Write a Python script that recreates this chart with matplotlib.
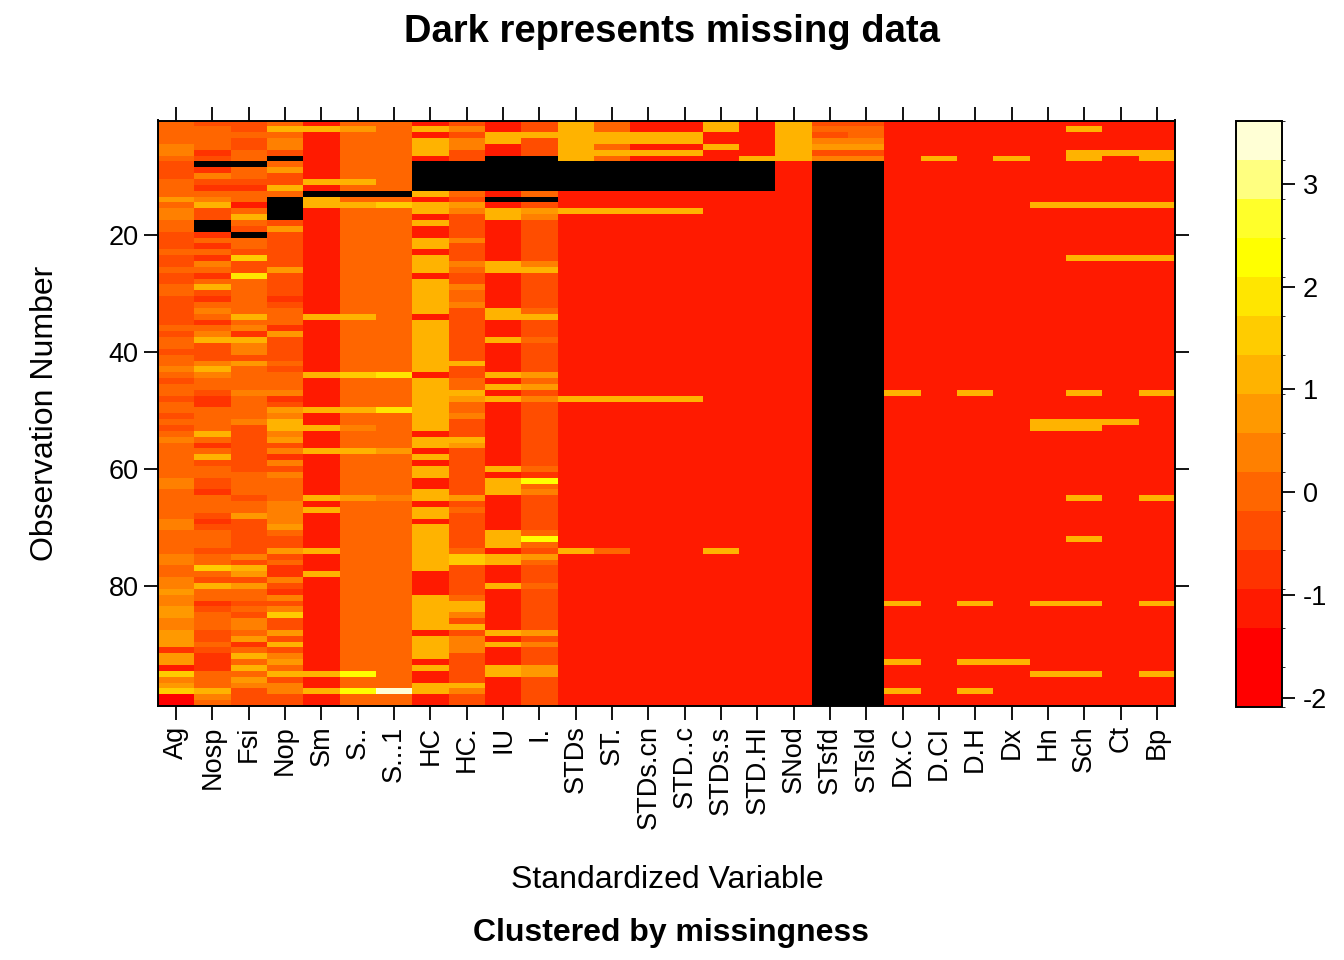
import numpy as np
import matplotlib
matplotlib.use('Agg')
import matplotlib.pyplot as plt
from matplotlib.colors import ListedColormap, BoundaryNorm

plt.rcParams['font.family'] = ['Liberation Sans', 'DejaVu Sans']
plt.rcParams['axes.unicode_minus'] = False

variables = ['Ag', 'Nosp', 'Fsi', 'Nop', 'Sm', 'S..', 'S...1', 'HC', 'HC.', 'IU', 'I.',
             'STDs', 'ST.', 'STDs.cn', 'STD..c', 'STDs.s', 'STD.HI', 'SNod', 'STsfd', 'STsld',
             'Dx.C', 'D.CI', 'D.H', 'Dx', 'Hn', 'Sch', 'Ct', 'Bp']

# one char per observation 1..100 (top down): colour level 0-e, '#' = missing
col_ag = '5555665444 5557566554 4454454455 4444454554 5565455455 4545655555 5665555566 5555665566 7667766777 3772967900'
col_nosp = '4555534#36 4356844##3 5353653584 3565356844 4686554335 5558535845 5443555434 5554559548 5534555445 4333555865'
col_fsi = '4454455#55 435525854# 554944a555 5558563866 4755556555 5644444444 5555455744 4444648747 5545466573 5858576444'
col_nop = '585664#574 485####474 4444474444 3455537444 4545556347 6886746364 6555566667 5447453364 3646944748 4675846644'
col_sm = '2822222222 82#8822222 2222222222 2228222222 2228222228 2282228222 2222828222 2228222822 2222222222 2222822822'
col_s = '5755555555 85#5855555 5555555555 5558555555 5559555558 5565558555 5555755555 5555555555 5555555555 5555b55b55'
col_s1 = '5555555555 55#5955555 5555555555 5555555555 555a55555a 5555557555 5555655555 5555555555 5555555555 5555555e55'
col_hc = '2828882### ##82882822 8828882888 8882888888 8882888888 8882882828 8228828828 8888888222 2888888288 8828228822'
col_hc2 = '4646644### ##54764444 6444654465 5644444444 4844558755 6444874444 4444745444 4445994444 4588648466 6444448644'
col_iu = '228822#### ##2#288222 2222882222 2288222822 2228282822 2222222228 2888222222 8882882228 2222222828 2228822222'
col_i = '448444#### ##5#476444 4444684444 4458444544 4447574644 4444444445 3b56444444 5b54754445 4444444746 4447744444'
col_stds = '8888888### ##22282222 2222222222 2222222222 2222222822 2222222222 2222222222 2228222222 2222222222 2222222222'
col_st = '5588585### ##22282222 2222222222 2222222222 2222222822 2222222222 2222222222 2225222222 2222222222 2222222222'
col_stdscn = '2288282### ##22282222 2222222222 2222222222 2222222822 2222222222 2222222222 2222222222 2222222222 2222222222'
col_stdc = '2288282### ##22282222 2222222222 2222222222 2222222822 2222222222 2222222222 2222222222 2222222222 2222222222'
col_stdss = '8822822### ##22222222 2222222222 2222222222 2222222222 2222222222 2222222222 2228222222 2222222222 2222222222'
col_stdhi = '2222228### ##22222222 2222222222 2222222222 2222222222 2222222222 2222222222 2222222222 2222222222 2222222222'
col_snod = '8888888222 2222222222 2222222222 2222222222 2222222222 2222222222 2222222222 2222222222 2222222222 2222222222'
col_stsfd = '4546746### ########## ########## ########## ########## ########## ########## ########## ########## ##########'
col_stsld = '4556746### ########## ########## ########## ########## ########## ########## ########## ########## ##########'
col_dxc = '2222222222 2222222222 2222222222 2222222222 2222228222 2222222222 2222222222 2222222222 2282222222 2282222822'
col_dci = '2222228222 2222222222 2222222222 2222222222 2222222222 2222222222 2222222222 2222222222 2222222222 2222222222'
col_dh = '2222222222 2222222222 2222222222 2222222222 2222228222 2222222222 2222222222 2222222222 2282222222 2282222822'
col_dx = '2222228222 2222222222 2222222222 2222222222 2222222222 2222222222 2222222222 2222222222 2222222222 2282222222'
col_hn = '2222222222 2222822222 2222222222 2222222222 2222222222 2882222222 2222222222 2222222222 2282222222 2222822222'
col_sch = '2822288222 2222822222 2228222222 2222222222 2222228222 2882222222 2222822222 2822222222 2282222222 2222822222'
col_ct = '2222282222 2222822222 2228222222 2222222222 2222222222 2822222222 2222222222 2222222222 2222222222 2222222222'
col_bp = '2222288222 2222822222 2228222222 2222222222 2222228222 2222222222 2222822222 2222222222 2282222222 2222822222'

y_ticks = [20, 40, 60, 80]
colorbar_ticks = [-2, -1, 0, 1, 2, 3]

# heat.colors(14), lowest colour shared by the two bottom levels
level_colors = ['#FF0000', '#FF0000', '#FF1A00', '#FF3300', '#FF4D00', '#FF6600', '#FF8000',
                '#FF9900', '#FFB300', '#FFCC00', '#FFE600', '#FFFF00', '#FFFF2A', '#FFFF80',
                '#FFFFD5']
value_min = -2.085
value_max = 3.615

FIG_W = 1344
FIG_H = 960


def decode(column):
    cells = column.replace(' ', '')
    assert len(cells) == 100
    width = (value_max - value_min) / len(level_colors)
    values = []
    for c in cells:
        if c == '#':
            values.append(np.nan)
        else:
            values.append(value_min + (int(c, 16) + 0.5) * width)
    return values


def build_matrix():
    columns = [col_ag, col_nosp, col_fsi, col_nop, col_sm, col_s, col_s1, col_hc, col_hc2,
               col_iu, col_i, col_stds, col_st, col_stdscn, col_stdc, col_stdss, col_stdhi,
               col_snod, col_stsfd, col_stsld, col_dxc, col_dci, col_dh, col_dx, col_hn,
               col_sch, col_ct, col_bp]
    return np.array([decode(c) for c in columns]).T


def px_box(x0, y0, x1, y1):
    return [x0 / FIG_W, 1 - y1 / FIG_H, (x1 - x0) / FIG_W, (y1 - y0) / FIG_H]


def main():
    data = build_matrix()
    n_obs, n_var = data.shape

    cmap = ListedColormap(level_colors)
    cmap.set_bad('black')
    bounds = np.linspace(value_min, value_max, len(level_colors) + 1)
    norm = BoundaryNorm(bounds, ncolors=len(level_colors))

    fig = plt.figure(figsize=(FIG_W / 100, FIG_H / 100), dpi=100)
    ax = fig.add_axes(px_box(158, 120.5, 1175, 706))

    x_edges = np.arange(0.5, n_var + 1)
    y_edges = np.arange(0.5, n_obs + 1)
    mesh = ax.pcolormesh(x_edges, y_edges, np.ma.masked_invalid(data), cmap=cmap, norm=norm,
                         shading='flat', antialiased=False, edgecolors='none')
    ax.set_xlim(0.5, n_var + 0.5)
    ax.set_ylim(n_obs + 0.5, 0.5)

    ax.set_xticks(range(1, n_var + 1))
    ax.set_xticklabels(variables, rotation=90)
    ax.set_yticks(y_ticks)
    ax.tick_params(axis='both', direction='out', length=10, width=1.3, top=True, right=True,
                   labelsize=19.5, pad=4, colors='black')
    for spine in ax.spines.values():
        spine.set_linewidth(1.4)

    cax = fig.add_axes(px_box(1236, 120.5, 1282, 706.5))
    cbar = fig.colorbar(mesh, cax=cax, ticks=colorbar_ticks)
    cbar.outline.set_linewidth(1.4)
    cax.tick_params(direction='out', length=9, width=1.3, labelsize=19.5, pad=6)

    fig.text(672 / FIG_W, 1 - 32 / FIG_H, 'Dark represents missing data', ha='center',
             va='center', fontsize=27.5, fontweight='bold')
    fig.text(667 / FIG_W, 1 - 880 / FIG_H, 'Standardized Variable', ha='center',
             va='center', fontsize=23)
    fig.text(671 / FIG_W, 1 - 933 / FIG_H, 'Clustered by missingness', ha='center',
             va='center', fontsize=23, fontweight='bold')
    fig.text(45 / FIG_W, 1 - 413 / FIG_H, 'Observation Number', ha='center', va='center',
             rotation=90, fontsize=23)

    fig.savefig('out.png', dpi=100)


if __name__ == '__main__':
    main()
